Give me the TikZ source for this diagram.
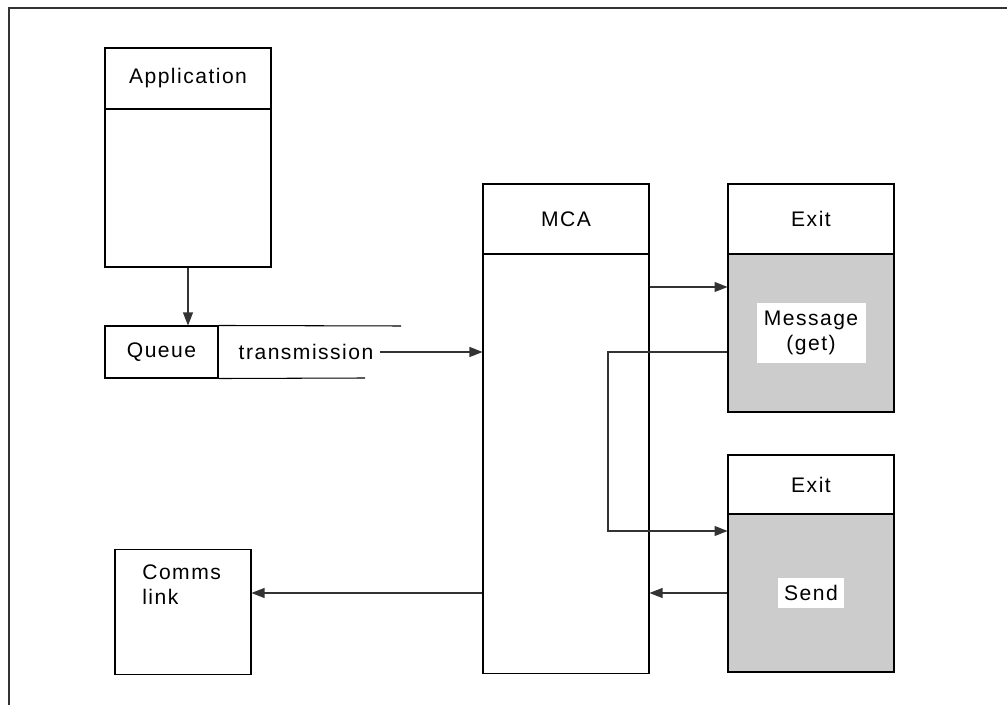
\documentclass[tikz,border=0pt]{standalone}
\usepackage{fontspec}
\setmainfont{Liberation Sans}[LetterSpace=7]
\usepackage{tikz}
\usetikzlibrary{arrows.meta,positioning,calc}
\definecolor{exitgray}{HTML}{CCCCCC}

\begin{document}
\begin{tikzpicture}[
    x=0.02cm, y=-0.02cm,
    font=\fontsize{12}{14.2}\selectfont,
    box/.style={
        draw=black,
        line width=0.6pt,
        minimum width=3.32cm,
        inner sep=0pt,
        align=center
    },
    exitbody/.style={
        box,
        fill=exitgray,
        minimum height=3.16cm
    },
    label/.style={
        fill=white,
        inner sep=0pt,
        align=center
    },
    arr/.style={-{Triangle[length=0.26cm,width=0.2cm]}, line width=0.6pt, draw=black!80}
]

\useasboundingbox (0,0) rectangle (1007,705);
\draw[line width=0.6pt, black!80] (9,705) -- (9,8) -- (1007,8);

\node[box, minimum height=1.22cm] (apphead) at (188,78.5) {Application};
\node[box, minimum height=3.16cm] (appbody) at (188,188) {};

\node[box, minimum width=2.26cm, minimum height=1.04cm] (queue) at (161.5,352) {Queue};
\node[inner sep=3.4pt] (trans) at (306,352) {transmission};
\coordinate (toptail) at (401,326);
\coordinate (bottail) at (365,378);
\draw[line width=0.6pt] (queue.north east) -- (toptail);
\draw[line width=0.6pt] (queue.south east) -- (bottail);

\node[box, minimum height=1.4cm] (mcahead) at (566,219) {MCA};
\node[box, minimum height=8.4cm] (mcabody) at (566,464) {};

\node[box, minimum height=1.4cm] (exit1head) at (811,219) {Exit};
\node[exitbody] (exit1body) at (811,333) {};
\node[label, minimum width=2.18cm, minimum height=1.2cm] (msg) at (exit1body) {Message\\(get)};

% second row
\node[box, minimum height=1.18cm] (exit2head) at (811,484.5) {Exit};
\node[exitbody] (exit2body) at (811,593) {};
\node[label, minimum width=1.32cm, minimum height=0.6cm] (send) at (exit2body) {Send};

\node[box, minimum width=2.72cm, minimum height=2.5cm] (comms) at (183,612) {};
\node[anchor=west, inner sep=0pt, align=left] (commstext) at (142,585) {Comms\\link};

\draw[arr] (appbody.south) -- (appbody.south |- queue.north);
\draw[arr] (trans.east) -- (mcabody.west |- trans.east);
\draw[arr] (mcabody.east |- 0,287) -- (exit1body.west |- 0,287);
\draw[arr] (exit1body.west |- 0,352) -| (608,531) -- (exit2body.west |- 0,531);
\draw[arr] (exit2body.west) -- (mcabody.east |- exit2body.west);
\draw[arr] (mcabody.west |- exit2body.west) -- (comms.east |- exit2body.west);

\end{tikzpicture}
\end{document}
